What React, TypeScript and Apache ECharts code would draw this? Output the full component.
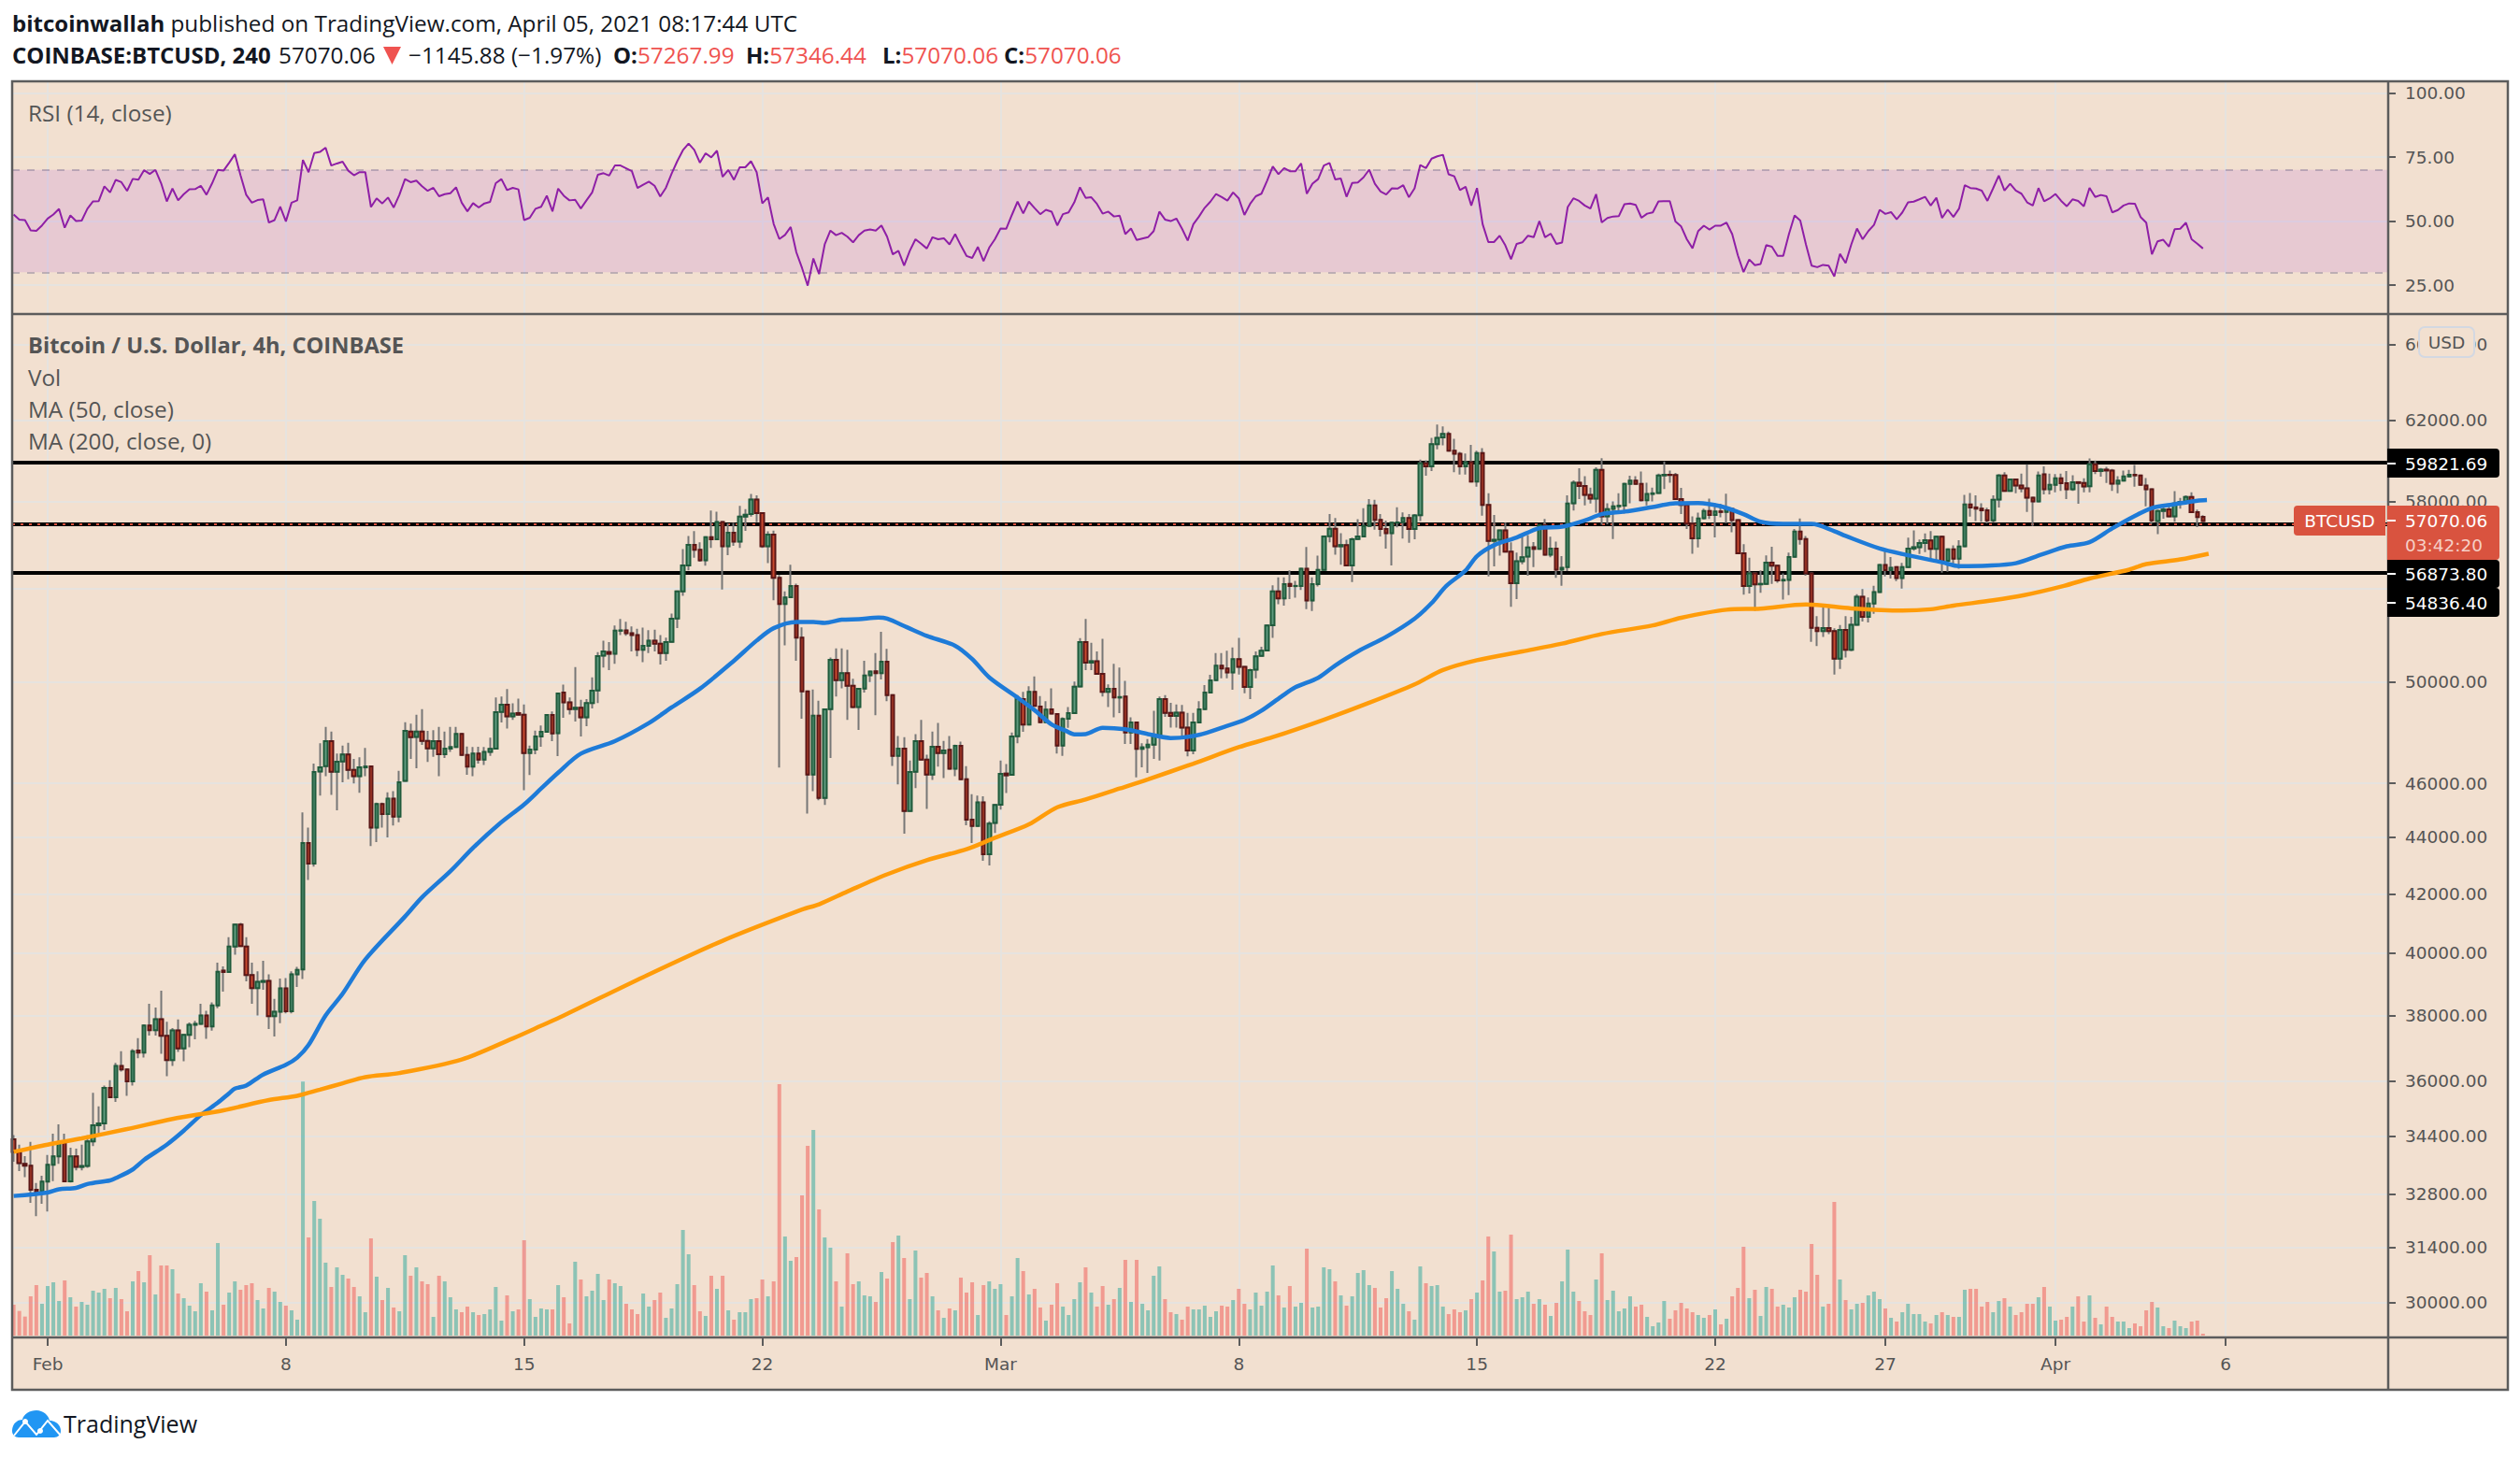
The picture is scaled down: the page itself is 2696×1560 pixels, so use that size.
import React, { useEffect, useRef } from "react";
import * as echarts from "echarts";

// Bars are 4h apart; candles[6] is 1 Feb 2021 00:00 UTC. Each row: [open, close, low, high]
const candles: number[][] = [
[34321,33969,33690,34436],[33969,33651,33437,34171],[33634,33582,33265,33848],[33582,32926,32575,34250],[32926,32867,32215,33110],[32884,33144,32550,33307],
[33144,33608,32340,33882],[33608,33840,33161,34479],[33840,34215,33634,34743],[34215,33153,33136,34479],[33153,33840,33119,34083],[33840,33548,33454,34057],
[33548,33574,33454,34171],[33574,34259,33522,34435],[34259,34717,34127,35660],[34717,34770,34408,35265],[34770,35800,34585,35873],[35800,35526,35508,36028],
[35526,36456,35390,36549],[36456,36354,36290,36900],[36354,35993,35570,36354],[35993,36900,35873,36964],[36920,36860,36690,37296],[36860,37690,36710,37727],
[37690,37543,37380,38370],[37543,37885,37380,38250],[37885,37370,36820,38785],[37370,36632,36150,37805],[36632,37533,36456,37610],[37533,36983,36880,37875],
[36983,37400,36595,37400],[37400,37710,37020,37785],[37710,37740,37260,37835],[37740,38000,37710,38370],[38000,37660,37280,38150],[37660,38320,37530,38410],
[38320,39395,38225,39690],[39430,39385,38755,39565],[39385,40220,39405,40530],[40220,40950,39945,40950],[40950,40230,40220,41010],[40220,39285,39085,40530],
[39285,38865,38370,39690],[38865,39065,38000,39405],[39065,39095,38815,39750],[39095,37980,37580,39305],[37980,38120,37350,38520],[38120,38855,37760,39175],
[38855,38130,38070,39185],[38130,39305,38070,39405],[39305,39455,38905,39555],[39465,43794,39155,44910],[43790,43060,42480,44350],[43060,46430,42955,46750],
[46450,46605,45540,47535],[46650,47620,46270,48185],[47620,46440,45565,48000],[46440,46820,44985,47135],[46830,47100,46035,47450],[47100,46510,46155,47560],
[46510,46270,45995,46930],[46270,46605,45645,46990],[46605,46640,46270,47360],[46640,44350,43680,46640],[44350,45220,43825,45275],[45220,44850,44350,45275],
[44850,45425,43995,45655],[45425,44755,44430,45700],[44755,46035,44545,46475],[46090,48025,46080,48370],[48000,47780,46930,48310],[47790,48000,46570,48670],
[48000,47630,47475,48895],[47630,47340,46810,48025],[47340,47620,47015,48050],[47620,47110,46270,48185],[47110,47330,46965,48000],[47330,47390,47205,48185],
[47390,47905,47370,48185],[47905,47085,47085,47930],[47085,46630,46320,47415],[46630,47135,46270,47390],[47135,46905,46750,47400],[46905,47205,46700,47390],
[47205,47320,47050,47755],[47330,48770,47330,49360],[48780,49075,48360,49400],[49075,48600,48120,49705],[48600,48710,48460,49130],[48735,48670,48640,49320],
[48670,47160,45740,49080],[47160,47295,46310,47450],[47295,47805,47110,48035],[47805,47985,47400,48235],[47985,48660,47985,48700],[48660,47925,47620,48800],
[47935,49530,47040,49565],[49565,49170,48550,49885],[49170,48895,48680,49360],[48895,48950,48400,50617],[48950,48560,47805,49270],[48560,49140,48210,49295],
[49140,49640,48920,50190],[49650,51070,49140,51245],[51090,51270,50590,51730],[51245,51170,50490,51670],[51170,52150,50750,52380],[52150,52165,51960,52660],
[52165,52040,51930,52535],[52040,51960,51270,52335],[51960,51335,51060,52230],[51335,51505,50820,52280],[51505,51730,51200,52175],[51730,51600,51270,52190],
[51600,51200,50725,51960],[51200,51670,50880,51850],[51680,52670,51680,52890],[52680,53870,52260,53870],[53870,55030,53670,55770],[55030,55970,54810,56380],
[55970,55740,55380,56600],[55740,55260,55200,56090],[55260,56320,55020,56350],[56320,56230,55830,57575],[56230,57035,56200,57515],[57035,55900,53950,57035],
[55900,56530,55490,56960],[56530,56115,55920,56990],[56115,57280,55830,57790],[57280,57370,56620,57640],[57400,58090,57280,58360],[58090,57450,57020,58290],
[57450,55900,55830,57450],[55900,56440,55130,56590],[56440,54470,53470,56630],[54470,53310,46600,54600],[53310,53600,51530,53870],[53610,54100,53600,55060],
[54100,51850,50880,54210],[51850,49610,48510,52290],[49610,46330,44870,49610],[46330,48630,45700,49690],[48630,45450,45360,49230],[45450,48880,45190,48900],
[48890,50920,46965,51010],[50920,50070,49400,51400],[50070,50360,49740,51400],[50360,49840,48460,51340],[49840,48980,48930,50130],[48980,49720,48060,49740],
[49730,50260,49560,50880],[50270,50430,49990,50470],[50440,50360,48650,51200],[50360,50840,50100,52100],[50840,49460,49210,51380],[49460,47050,46660,49500],
[47050,47330,45960,47820],[47330,44960,44130,47780],[44960,46430,44930,46870],[46440,47620,45820,47900],[47620,46900,46870,48460],[46900,46330,45040,47090],
[46330,47400,46130,48000],[47400,47160,46630,48340],[47160,47260,46200,47630],[47280,46550,46550,47820],[46550,47440,46270,47480],[47440,46150,46150,47600],
[46150,44640,44440,46650],[44640,44410,43790,45590],[44410,45280,44400,45540],[45280,43395,43160,45510],[43395,44500,42990,44580],[44520,45190,44160,45210],
[45200,46360,45010,46870],[46370,46300,45630,46730],[46320,47805,46320,47960],[47815,49295,47535,49460],[49295,48280,47985,49590],[48280,49590,48260,49825],
[49590,49020,49000,50230],[49000,48370,48370,49425],[48370,48870,48370,49210],[48880,48710,48710,49740],[48700,47450,47135,48700],[47450,48500,47050,48560],
[48510,48730,48150,48980],[48730,49800,48730,50010],[49810,51670,49810,51830],[51670,50800,50490,52660],[50800,50860,50490,51640],[50860,50330,50300,51270],
[50330,49590,49400,51800],[49590,49720,48980,49900],[49720,49360,48560,50750],[49360,49380,48730,50590],[49400,47965,47510,50040],[47965,48360,47510,48560],
[48360,47320,46220,48360],[47320,47380,46610,47540],[47380,47480,46390,47700],[47480,47840,46930,48830],[47850,49300,46870,49400],[49300,48745,48585,49460],
[48745,48620,48160,49145],[48620,48755,48160,49080],[48755,48160,47845,49060],[48160,47260,47030,48745],[47260,48360,47115,48745],[48360,48880,48360,49210],
[48890,49565,48890,49870],[49565,50060,49565,50290],[50070,50670,50070,51200],[50670,50555,50145,51200],[50555,50390,50145,51300],[50390,50950,49680,51440],
[50950,50620,50300,51840],[50620,49790,49540,50640],[49790,50490,49300,50550],[50510,51060,50145,51270],[51080,51300,51070,51470],[51310,52380,51310,52380],
[52390,53870,51840,54140],[53870,53560,53300,54490],[53560,54190,53240,54490],[54200,54100,53530,54810],[54100,54110,53590,54330],[54110,54880,53930,54880],
[54880,53460,53080,55870],[53460,54190,53000,54490],[54190,54830,54080,55470],[54830,56360,54830,56360],[56370,56710,56090,57400],[56710,55900,55520,57220],
[55900,55960,55060,56510],[55960,55030,55030,56200],[55030,56230,54280,56300],[56240,56350,56230,57160],[56360,56840,56340,57680],[56850,57810,56830,58120],
[57810,57130,56670,58080],[57130,56700,56350,57400],[56700,56510,55800,57100],[56510,57000,55030,57030],[57000,57010,56780,57730],[57020,57220,56260,57480],
[57220,56700,56060,57400],[56700,57340,56230,57400],[57350,59850,57070,60030],[59850,59700,59240,60000],[59700,60800,59470,61120],[60800,61120,60540,61790],
[61140,61320,60740,61700],[61320,60470,60470,61440],[60470,60320,59420,61070],[60320,59700,59300,60420],[59700,59910,59300,60340],[59910,58960,58960,60770],
[58960,60360,58710,60470],[60360,57840,57330,60600],[57840,56150,54530,58400],[56150,56200,54990,57360],[56200,56640,55470,56670],[56640,55660,55660,57000],
[55660,54230,53190,56090],[54230,55220,53530,55610],[55220,55400,55080,56360],[55430,55850,54560,56420],[55860,55780,54950,56100],[55780,56880,55780,56920],
[56880,55520,55490,57170],[55520,55800,55400,56340],[55800,54840,54470,56120],[54840,54920,54120,55450],[54950,57900,54770,58290],[57910,58900,57570,59020],
[58900,58750,58110,59610],[58750,58320,57810,59220],[58320,58140,57900,58670],[58140,59530,57470,59650],[59530,57300,56900,60100],[57300,57640,56920,57920],
[57650,57770,56240,58000],[57770,57800,57430,58400],[57800,58850,57430,58900],[58850,59000,57920,59240],[59000,58850,58800,59220],[58850,58060,58000,59450],
[58060,58360,57810,58900],[58360,58390,58000,58670],[58410,59260,58380,59350],[59260,59290,58600,59940],[59290,59280,58900,59500],[59280,58110,58110,59380],
[58110,57840,57400,58650],[57840,56950,56700,57840],[56950,56270,55560,57300],[56270,57200,55850,57470],[57210,57550,57150,57660],[57550,57360,57170,58140],
[57360,57530,56310,57920],[57530,57500,57250,57890],[57500,57650,56980,58370],[57650,57120,56550,57680],[57120,55580,55580,57170],[55580,54110,53720,56000],
[54110,54670,53770,55380],[54670,54180,53010,54700],[54180,54200,53800,54810],[54200,55160,54200,55480],[55160,55020,54200,55880],[55020,54350,54250,55030],
[54350,54380,53500,54670],[54380,55410,53700,55610],[55420,56580,55420,56700],[56580,56240,55980,57200],[56240,54670,54560,56380],[54670,52270,51680,54670],
[52270,52130,51500,52780],[52130,52260,51880,53220],[52260,52130,52000,53150],[52130,50970,50300,52250],[50970,52180,50540,52400],[52180,51340,51010,52780],
[51340,52410,51280,52750],[52410,53630,52380,53740],[53630,52750,52550,53970],[52750,53330,52510,53600],[53330,53840,52880,54120],[53840,55050,53840,55050],
[55050,54820,54530,55690],[54820,54920,54440,55410],[54950,54460,54320,54950],[54460,54950,53990,55140],[54950,55800,54950,56300],[55800,55860,55700,56640],
[55860,56050,55550,56210],[56050,56180,55630,56500],[56170,55780,55240,56600],[55780,56340,55240,56380],[56340,55210,54700,56400],[55240,55760,54740,55760],
[55760,55340,54950,55950],[55340,55890,54880,56180],[55900,57860,55900,58320],[57860,57720,57280,58410],[57720,57660,57080,58290],[57660,57580,57040,57920],
[57580,57110,56960,57700],[57110,58080,57000,58290],[58090,59260,57720,59320],[59260,58510,58470,59420],[58510,59060,58470,59110],[59060,58770,58400,59110],
[58770,58630,58440,59350],[58630,58180,57500,59800],[58180,58000,56850,58210],[58000,59260,58000,59450],[59310,58590,58340,59700],[58590,58800,58340,59350],
[58800,59120,58440,59320],[59120,58880,58510,59350],[58880,58590,58110,59470],[58590,58920,58510,59270],[58930,58890,57890,58970],[58890,58720,58440,59120],
[58730,59800,58440,60090],[59800,59470,59320,59990],[59470,59540,59200,59620],[59540,59500,58890,59680],[59500,58860,58510,59570],[58860,59000,58400,59220],
[59000,59210,58970,59500],[59210,59290,59180,59530],[59290,59260,58710,59770],[59260,58800,58770,59280],[58770,58590,57770,59130],[58590,57110,56930,58600],
[57080,57550,56460,57620],[57550,57620,57180,57890],[57630,57300,57260,57810],[57300,57900,57040,58500],[57900,57980,57660,58170],[57990,58220,57870,58290],
[58220,57490,57460,58440],[57490,57260,56790,57620],[57267.99,57070.06,57070.06,57346.44],
];

const volumes: number[] = [
99,79,61,126,162,102,159,171,111,177,123,93,108,99,144,138,150,120,153,117,78,174,207,171,258,132,225,225,213,135,120,96,78,168,141,81,297,99,138,174,147,162,168,114,87,153,141,108,96,81,51,815,315,432,375,234,156,219,195,183,156,126,75,312,189,114,153,90,78,258,192,219,174,165,60,192,174,123,84,75,93,75,66,69,84,156,48,129,78,84,306,117,60,87,84,84,162,123,39,237,180,126,144,198,114,180,168,159,102,84,69,135,93,114,138,57,87,165,339,261,162,78,63,192,150,192,81,51,75,75,117,120,180,126,174,807,318,240,252,450,609,660,405,315,282,
174,93,264,165,174,129,126,108,204,183,300,321,249,117,273,186,201,126,81,57,87,81,186,138,171,66,162,174,150,165,66,126,249,207,132,150,90,48,99,168,93,66,117,171,219,138,93,159,99,117,153,243,108,243,102,81,192,222,117,75,69,51,93,84,84,96,60,78,96,93,114,150,102,84,138,96,141,225,129,90,159,93,105,279,90,93,219,213,174,129,96,126,201,210,162,153,90,120,207,150,102,78,51,222,168,159,162,93,69,84,75,81,117,138,177,318,270,141,144,324,117,123,141,102,117,99,63,105,174,276,141,111,78,66,180,264,114,144,78,87,126,93,99,60,30,42,111,54,81,105,87,75,66,57,66,84,36,54,126,153,285,120,147,63,156,150,93,99,90,123,147,141,294,195,93,102,429,180,114,84,102,105,129,141,117,87,57,45,75,102,69,69,45,39,66,75,66,60,60,147,150,150,93,108,75,111,120,93,66,75,102,102,123,156,93,48,51,60,93,126,45,129,57,36,93,60,45,45,24,39,30,81,108,90,30,24,48,30,24,45,48,6,
];

const rsi: number[] = [
52.6,50.6,50.4,46.4,46.2,48.3,51.0,52.6,54.8,47.4,52.2,50.0,50.2,54.8,57.7,57.8,63.6,61.2,66.1,65.2,61.8,66.5,66.2,69.9,68.4,70.0,64.8,57.7,62.7,58.1,60.5,62.4,62.5,63.8,60.3,64.8,70.0,69.7,72.8,76.1,67.9,60.3,57.2,58.2,58.5,49.4,50.4,55.6,49.9,57.2,58.1,73.9,69.1,76.6,77.0,78.7,71.7,72.5,73.2,69.7,67.9,69.1,69.1,55.5,58.9,56.9,59.2,55.3,60.2,66.4,65.2,65.8,63.6,61.8,63.0,59.7,60.5,60.9,63.2,57.2,53.8,57.0,55.3,56.9,57.5,64.8,66.4,62.1,63.0,62.4,50.4,51.3,54.8,55.6,59.9,53.8,62.7,59.9,58.1,58.3,54.9,58.1,61.2,68.1,68.7,67.8,71.7,71.7,70.6,69.5,62.9,64.2,65.4,63.8,59.6,63.0,68.5,73.4,77.7,80.3,77.8,72.8,76.5,74.9,77.5,67.3,70.0,66.1,71.0,71.0,73.4,69.1,56.9,59.3,48.9,43.0,44.6,47.7,
37.8,31.7,24.8,35.4,29.3,40.9,46.3,44.5,45.4,43.9,41.7,44.5,46.3,46.7,46.3,48.3,43.9,37.0,38.4,32.6,38.4,42.9,41.2,39.3,43.7,42.9,43.3,40.9,44.9,40.5,36.4,35.6,39.9,34.4,39.6,42.9,47.1,47.0,52.4,57.6,53.0,57.6,55.1,52.7,54.4,53.7,48.3,52.7,53.4,57.3,63.2,59.1,59.3,56.7,52.9,53.7,51.8,52.1,44.9,47.1,42.6,43.2,43.7,46.1,53.7,50.6,50.0,51.0,47.0,42.4,48.8,51.8,55.2,57.6,60.6,59.4,58.0,61.2,58.9,52.4,56.7,59.7,60.7,65.8,71.3,68.3,70.7,69.5,69.5,72.5,60.7,64.6,66.4,71.7,72.7,66.3,66.6,59.5,64.9,65.1,67.1,70.1,64.6,61.6,60.4,62.8,62.7,64.0,59.3,62.8,71.9,70.7,74.4,75.3,75.9,68.3,67.5,62.1,63.4,56.1,62.9,48.8,41.8,41.8,44.3,40.5,35.1,41.1,41.7,44.3,43.7,50.0,43.7,45.1,41.1,41.6,55.5,58.9,57.9,56.1,54.9,60.5,49.5,51.2,51.8,51.9,56.6,56.9,56.3,51.3,52.9,53.4,57.7,57.8,57.8,49.8,47.9,42.9,39.4,46.1,48.2,46.7,48.2,48.2,49.4,44.9,36.6,30.1,35.0,32.8,33.2,40.6,40.0,36.4,36.4,44.9,52.2,50.2,40.9,32.6,32.0,32.9,32.6,28.4,37.2,33.6,40.9,47.1,42.9,46.1,48.5,54.4,52.8,53.5,50.7,53.4,57.3,57.6,58.5,59.5,56.1,59.1,51.2,54.5,51.6,54.9,64.0,62.9,62.7,61.9,57.9,62.8,67.8,61.9,64.6,61.9,60.7,57.3,56.1,62.9,57.7,58.9,60.6,57.9,55.8,58.5,57.9,55.8,63.0,59.4,60.2,59.7,53.4,54.3,56.1,56.9,56.8,51.6,49.4,37.0,42.1,42.7,40.0,46.8,47.0,49.4,42.9,41.2,39.3,
];

const ma50Bars: number[] = [0,6,8,11,13,17,18,21,23,27,30,33,36,38,39,41,44,48,50,52,55,58,62,69,72,77,81,85.5,90,93,96,100,106,112,116,121,127,131,134,138,141,143,146,149,152.5,154,157.5,161,166,169,172,177,180,183,185.5,187,189,192,196,200,204,209,213.5,217,220,223.5,226,230,233,237,242,247,250,252.6,256,258,261,265,269,273,277,280,284,289,293,297,301,305,308,312,317,321,323,329,334,340,343,348,353,357.5,362,366,370,374,377,381,385,386.7];
const ma50Values: number[] = [32757,32850,32935,32975,33080,33180,33240,33480,33745,34170,34565,35010,35370,35645,35780,35873,36200,36490,36705,37090,38000,38685,39790,41224,41880,42790,43620,44465,45205,45800,46400,47135,47620,48335,48960,49720,50880,51730,52260,52530,52530,52490,52625,52650,52720,52670,52300,51930,51510,50950,50190,49360,48850,48280,48030,47890,47900,48150,48090,47900,47745,47870,48190,48460,48830,49400,49780,50170,50680,51270,51890,52670,53350,54110,54800,55450,55950,56310,56740,56810,57100,57400,57520,57740,57920,57930,57770,57400,57040,56940,56940,56600,56380,55800,55490,55170,55000,55020,55130,55520,55900,56090,56730,57320,57690,57870,58040,58070];

const ma200Bars: number[] = [0,6,12,20,28,37,45,50,54,58,62,68,79,88,93,97,111,125,139,142,147,154,161,168,173,179,184,189,195,200,208,216,222,231,239,247,252,258,266,273,280,289,294,302,308,316,324,333,338,342,349,354.5,361.5,366,373,376,382,387];
const ma200Values: number[] = [33969,34171,34347,34610,34900,35150,35446,35570,35752,35938,36122,36243,36650,37290,37680,38000,39220,40410,41460,41640,42080,42680,43180,43570,43980,44470,45100,45390,45800,46150,46750,47385,47780,48470,49150,49900,50490,50900,51270,51600,52010,52380,52710,53060,53110,53290,53120,53020,53080,53240,53470,53700,54110,54440,54840,55090,55300,55560];

const priceTicks: number[] = [66000,62000,58000,54000,50000,46000,44000,42000,40000,38000,36000,34400,32800,31400,30000];
const rsiTicks: number[] = [25,50,75,100];
const timeTickBars: number[] = [6,48,90,132,174,216,258,300,330,360,390];
const timeTickLabels: string[] = ["Feb","8","15","22","Mar","8","15","22","27","Apr","6"];
const levels: number[] = [59821.69,56873.8,54836.4];
const lastPrice = 57070.06;

const ln = Math.log;

const BG = "#f2e0d0";
const GRIDC = "#e6e3df";
const FRAME = "#5c5c5c";
const UI = '"Open Sans", sans-serif';
const AX = '"DejaVu Sans", sans-serif';
const AXS = 18.5;

const cloud = "M0 22 C0 15 5 10 11 10 C12 4 19 0 26 0 C33 0 39 5 40 11 C47 11 52 16 52 22 C52 26 49 29 45 29 L7 29 C3 29 0 26 0 22 Z";
echarts.graphic.registerShape("tvCloud", echarts.graphic.extendPath(cloud as any, {}) as any);

const L = 13, R = 2555, FR = 2683, T1 = 87, S = 336, B = 1431, FB = 1487;

function rectEl(x: number, y: number, w: number, h: number, fill: string, z: number, r: any = 0, stroke?: string) {
  return { type: "rect", silent: true, z, shape: { x, y, width: w, height: h, r }, style: { fill, stroke, lineWidth: stroke ? 2 : 0 } };
}
function textEl(x: number, y: number, text: string, opt: any = {}, z = 70) {
  return { type: "text", silent: true, z, x, y, style: { text, fill: "#555", fontFamily: UI, fontSize: 24.3, verticalAlign: "middle", align: "left", ...opt } };
}
const headRich = {
  b: { fontWeight: "bold", fill: "#131722", fontFamily: UI, fontSize: 24 },
  r: { fill: "#ef5350", fontFamily: UI, fontSize: 24.3 },
};

export default function App() {
  const ref = useRef<HTMLDivElement>(null);
  useEffect(() => {
    document.body.style.margin = "0";
    document.body.style.background = "#fff";
    if (volumes.length !== candles.length || rsi.length !== candles.length || ma50Bars.length !== ma50Values.length || ma200Bars.length !== ma200Values.length) {
      throw new Error(`len c=${candles.length} v=${volumes.length} r=${rsi.length} m50=${ma50Bars.length}/${ma50Values.length} m200=${ma200Bars.length}/${ma200Values.length}`);
    }
    const chart = echarts.init(ref.current!, undefined, { renderer: "svg", width: 2696, height: 1560 });
    const xMin = -0.264, xMax = 418.66;
    const labelOf = new Map(timeTickBars.map((v, i) => [v, timeTickLabels[i]]));
    const yTicks = priceTicks.map(ln);
    const splitStyle = { show: true, lineStyle: { color: GRIDC, width: 2 } };
    const noLine = { show: false, onZero: false };
    const xCommon = { type: "value", min: xMin, max: xMax, axisLine: noLine, splitLine: splitStyle, axisPointer: { show: false } };

    const levelLines = levels.map((v) => ({ yAxis: ln(v), lineStyle: { color: "#000", width: 4, type: "solid" } }));

    const option: any = {
      animation: false,
      backgroundColor: "#fff",
      grid: [
        { left: L, width: R - L, top: T1, height: S - T1 },
        { left: L, width: R - L, top: S, height: B - S },
      ],
      xAxis: [
        { ...xCommon, gridIndex: 0, axisTick: { show: false, customValues: timeTickBars }, axisLabel: { show: false, customValues: timeTickBars } },
        {
          ...xCommon, gridIndex: 1,
          axisTick: { show: true, length: 9, customValues: timeTickBars, lineStyle: { color: FRAME, width: 2 } },
          axisLabel: {
            show: true, customValues: timeTickBars, margin: 19, color: "#555", fontFamily: AX, fontSize: AXS, hideOverlap: false,
            formatter: (v: number) => labelOf.get(v) ?? "",
          },
        },
        { ...xCommon, gridIndex: 1, show: false, splitLine: { show: false } },
      ],
      yAxis: [
        {
          type: "value", gridIndex: 0, position: "right", min: 13.7, max: 104.6, axisLine: noLine,
          axisTick: { show: true, length: 8, customValues: rsiTicks, lineStyle: { color: FRAME, width: 2 } },
          axisLabel: { customValues: rsiTicks, margin: 18, color: "#555", fontFamily: AX, fontSize: AXS, formatter: (v: number) => v.toFixed(2) },
          splitLine: splitStyle,
        },
        {
          type: "value", gridIndex: 1, position: "right", min: ln(29158), max: ln(67672), axisLine: noLine,
          axisTick: { show: true, length: 8, customValues: yTicks, lineStyle: { color: FRAME, width: 2 } },
          axisLabel: {
            customValues: yTicks, margin: 18, color: "#555", fontFamily: AX, fontSize: AXS, hideOverlap: false,
            // the 54000 label sits wholly behind the black level boxes in the reference
            formatter: (v: number) => { const p = Math.round(Math.exp(v)); return p === 54000 ? "" : p.toFixed(2); },
          },
          splitLine: splitStyle,
        },
        { type: "value", gridIndex: 1, show: false, min: -6, max: 3279, axisLine: noLine, splitLine: { show: false } },
      ],
      series: [
        {
          name: "RSI", type: "line", xAxisIndex: 0, yAxisIndex: 0, z: 5, symbol: "none", silent: true,
          data: rsi.map((v, i) => [i, v]),
          lineStyle: { color: "#8e1fa6", width: 2 },
          markArea: { silent: true, itemStyle: { color: "rgba(150,20,230,0.11)" }, data: [[{ yAxis: 70 }, { yAxis: 30 }]] },
          markLine: {
            silent: true, symbol: "none", label: { show: false }, animation: false,
            lineStyle: { color: "rgba(120,110,140,0.42)", width: 2, type: [8, 8] },
            data: [{ yAxis: 70 }, { yAxis: 30 }],
          },
        },
        {
          name: "Vol", type: "bar", xAxisIndex: 2, yAxisIndex: 2, z: 2, barWidth: 4, silent: true,
          data: volumes.map((v, i) => [i, v]),
          itemStyle: { color: (p: any) => { const c = candles[p.dataIndex]; return c[1] >= c[0] ? "rgba(38,166,154,0.5)" : "rgba(239,83,80,0.5)"; } },
        },
        {
          name: "Wicks", type: "candlestick", xAxisIndex: 1, yAxisIndex: 1, z: 3, barWidth: 2, silent: true,
          encode: { x: 0, y: [1, 2, 3, 4] },
          data: candles.map((c, i) => [i, ln(c[0]), ln(c[1]), ln(c[2]), ln(c[3])]),
          itemStyle: { color: "#777", color0: "#777", borderColor: "#777", borderColor0: "#777", borderColorDoji: "#777", borderWidth: 2 },
        },
        {
          name: "BTCUSD", type: "candlestick", xAxisIndex: 1, yAxisIndex: 1, z: 4, barWidth: 4, silent: true,
          encode: { x: 0, y: [1, 2, 3, 4] },
          data: candles.map((c, i) => [i, ln(c[0]), ln(c[1]), ln(Math.min(c[0], c[1])), ln(Math.max(c[0], c[1]))]),
          itemStyle: { color: "#5f9a7e", color0: "#c8492f", borderColor: "#1f5a3b", borderColor0: "#5a1616", borderColorDoji: "#5a1616", borderWidth: 2 },
          markLine: {
            silent: true, symbol: "none", label: { show: false }, animation: false, z: 3,
            data: [...levelLines, { yAxis: ln(lastPrice), lineStyle: { color: "#d9533f", width: 2, type: [3, 6] } }],
          },
        },
        {
          name: "MA 50", type: "line", xAxisIndex: 1, yAxisIndex: 1, z: 6, symbol: "none", smooth: 0.3, silent: true,
          data: ma50Bars.map((b, i) => [b, ln(ma50Values[i])]),
          lineStyle: { color: "#1e7bd8", width: 4.5 },
        },
        {
          name: "MA 200", type: "line", xAxisIndex: 1, yAxisIndex: 1, z: 6, symbol: "none", smooth: 0.3, silent: true,
          data: ma200Bars.map((b, i) => [b, ln(ma200Values[i])]),
          lineStyle: { color: "#ff9c0a", width: 4.5 },
        },
      ],
      graphic: {
        elements: [
          rectEl(L, T1, FR - L, FB - T1, BG, -10),
          // frame
          { type: "rect", silent: true, z: 50, shape: { x: L, y: T1, width: FR - L, height: FB - T1 }, style: { fill: "none", stroke: FRAME, lineWidth: 2.5 } },
          { type: "line", silent: true, z: 50, shape: { x1: L, y1: S, x2: FR, y2: S }, style: { stroke: FRAME, lineWidth: 2.5 } },
          { type: "line", silent: true, z: 50, shape: { x1: R, y1: T1, x2: R, y2: FB }, style: { stroke: FRAME, lineWidth: 2.5 } },
          { type: "line", silent: true, z: 50, shape: { x1: L, y1: B, x2: FR, y2: B }, style: { stroke: FRAME, lineWidth: 2.5 } },
          // header
          textEl(13, 24, "{b|bitcoinwallah} published on TradingView.com, April 05, 2021 08:17:44 UTC", { fill: "#131722", rich: headRich }),
          textEl(13, 58, "COINBASE:BTCUSD, 240", { fill: "#131722", fontWeight: "bold", fontSize: 24 }),
          textEl(298, 58, "57070.06", { fill: "#131722" }),
          { type: "polygon", silent: true, z: 70, shape: { points: [[410, 50], [429, 50], [419.5, 69]] }, style: { fill: "#ef5350" } },
          textEl(437, 58, "−1145.88 (−1.97%)", { fill: "#131722" }),
          textEl(656, 58, "{b|O:}{r|57267.99}", { fill: "#131722", rich: headRich }),
          textEl(798, 58, "{b|H:}{r|57346.44}", { fill: "#131722", rich: headRich }),
          textEl(944, 58, "{b|L:}{r|57070.06}", { fill: "#131722", rich: headRich }),
          textEl(1074, 58, "{b|C:}{r|57070.06}", { fill: "#131722", rich: headRich }),
          // pane legends
          textEl(30, 120, "RSI (14, close)"),
          textEl(30, 369, "Bitcoin / U.S. Dollar, 4h, COINBASE", { fontWeight: "bold", fontSize: 23.7 }),
          textEl(30, 403, "Vol"),
          textEl(30, 437, "MA (50, close)"),
          textEl(30, 471, "MA (200, close, 0)"),
          // price labels
          rectEl(2588, 350, 59, 32, BG, 60, 6, "#d3d8e2"),
          textEl(2617.5, 366, "USD", { fontFamily: AX, fontSize: AXS, align: "center" }),
          rectEl(2454, 541, 98, 32, "#d9533f", 60, [4, 0, 0, 4]),
          textEl(2503, 557, "BTCUSD", { fontFamily: AX, fontSize: AXS, align: "center", fill: "#fff" }),
          rectEl(2554, 541, 120, 58, "#d9533f", 60, [0, 4, 4, 0]),
          textEl(2573, 557, "57070.06", { fontFamily: AX, fontSize: AXS, fill: "#fff" }),
          textEl(2573, 583, "03:42:20", { fontFamily: AX, fontSize: AXS, fill: "#f6cfc6" }),
          { type: "line", silent: true, z: 65, shape: { x1: 2554, y1: 557, x2: 2563, y2: 557 }, style: { stroke: "#fff", lineWidth: 2 } },
          rectEl(2554, 480, 120, 31, "#000", 60, [0, 4, 4, 0]),
          textEl(2573, 496, "59821.69", { fontFamily: AX, fontSize: AXS, fill: "#fff" }),
          { type: "line", silent: true, z: 65, shape: { x1: 2554, y1: 496, x2: 2563, y2: 496 }, style: { stroke: "#fff", lineWidth: 2 } },
          rectEl(2554, 599, 120, 30, "#000", 60, [0, 4, 4, 0]),
          textEl(2573, 614, "56873.80", { fontFamily: AX, fontSize: AXS, fill: "#fff" }),
          { type: "line", silent: true, z: 65, shape: { x1: 2554, y1: 614, x2: 2563, y2: 614 }, style: { stroke: "#fff", lineWidth: 2 } },
          rectEl(2554, 629, 120, 31, "#000", 60, [0, 4, 4, 0]),
          textEl(2573, 645, "54836.40", { fontFamily: AX, fontSize: AXS, fill: "#fff" }),
          { type: "line", silent: true, z: 65, shape: { x1: 2554, y1: 645, x2: 2563, y2: 645 }, style: { stroke: "#fff", lineWidth: 2 } },
          // logo
          { type: "tvCloud", silent: true, z: 70, x: 13, y: 1509, style: { fill: "#2196f3" } },
          { type: "polyline", silent: true, z: 71, shape: { points: [[15, 1536], [27, 1521], [39, 1535], [51, 1520], [65, 1536]] }, style: { stroke: "#fff", fill: "none", lineWidth: 2 } },
          { type: "circle", silent: true, z: 72, shape: { cx: 27, cy: 1521, r: 3 }, style: { fill: "#fff" } },
          { type: "circle", silent: true, z: 72, shape: { cx: 43, cy: 1531, r: 3 }, style: { fill: "#fff" } },
          textEl(68, 1523, "TradingView", { fill: "#131722", fontSize: 25 }),
        ],
      },
    };
    chart.setOption(option);
    return () => chart.dispose();
  }, []);
  return <div ref={ref} style={{ width: 2696, height: 1560 }} />;
}
